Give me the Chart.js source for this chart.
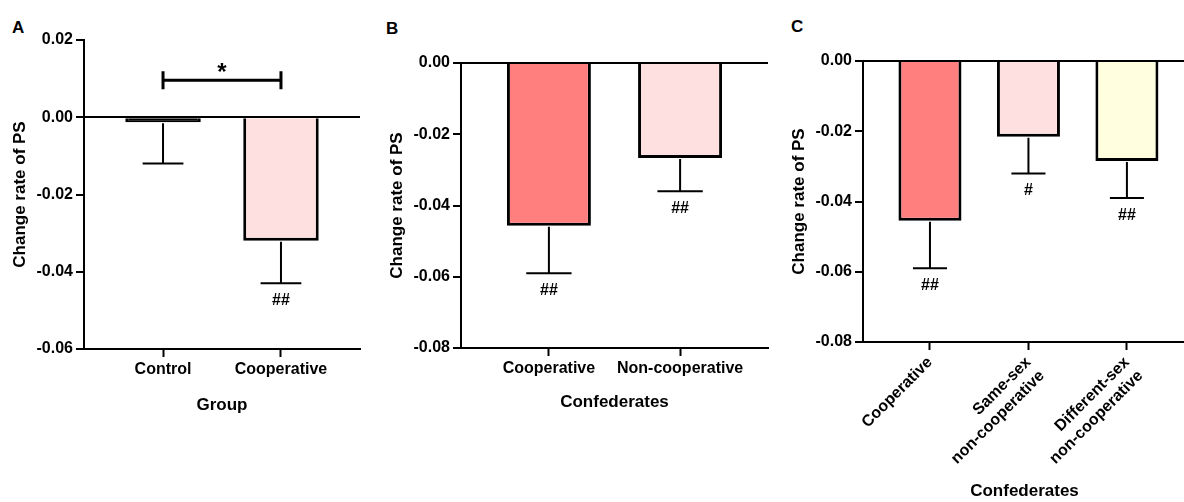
<!DOCTYPE html>
<html>
<head>
<meta charset="utf-8">
<script src="https://cdn.jsdelivr.net/npm/chart.js@4/dist/chart.umd.min.js"></script>
<style>
    body { margin: 0; background: #fff; overflow: hidden; width: 1184px; height: 502px; position: relative; }
    canvas { position: absolute; top: 0; }
    .letter { position: absolute; font: bold 17px "Liberation Sans", Arial, sans-serif; color: #000; }
</style>
</head>
<body>
<div class="letter" style="left:12px; top:18px;">A</div>
<div class="letter" style="left:386px; top:19px;">B</div>
<div class="letter" style="left:791px; top:17px;">C</div>
<canvas id="chartA" width="372" height="430" style="left:0px;"></canvas>
<canvas id="chartB" width="403" height="430" style="left:377px;"></canvas>
<canvas id="chartC" width="410" height="502" style="left:779px;"></canvas>
<script>
// Panel A - Group
const groupLabels = ["Control", "Cooperative"];
const groupMeans = [-0.0013, -0.032];
const groupErrLow = [-0.012, -0.043];
const groupMarks = ["", "##"];
const groupColors = ["#000000", "#ffe0e0"];
const groupBracket = { from: 0, to: 1, value: 0.0096, text: "*" };

// Panel B - Confederates
const confLabels = ["Cooperative", "Non-cooperative"];
const confMeans = [-0.0457, -0.0267];
const confErrLow = [-0.059, -0.036];
const confMarks = ["##", "##"];
const confColors = ["#ff7f7f", "#ffe0e0"];

// Panel C - Confederates by sex
const sexLabels = [["Cooperative"], ["Same-sex", "non-cooperative"], ["Different-sex", "non-cooperative"]];
const sexMeans = [-0.0455, -0.0216, -0.0285];
const sexErrLow = [-0.059, -0.032, -0.039];
const sexMarks = ["##", "#", "##"];
const sexColors = ["#ff7f7f", "#ffe0e0", "#ffffe0"];

Chart.defaults.font.family = '"Liberation Sans", Arial, sans-serif';
Chart.defaults.font.weight = 'bold';
Chart.defaults.color = '#000';

// error bars (downward only), # marks and the significance bracket
const errorBarPlugin = {
    id: 'errorBars',
    afterDatasetsDraw(chart, args, opts) {
        const ctx = chart.ctx;
        const yScale = chart.scales.y;
        const meta = chart.getDatasetMeta(0);
        ctx.save();
        ctx.strokeStyle = '#000';
        ctx.fillStyle = '#000';
        ctx.lineWidth = 2;
        ctx.textAlign = 'center';
        ctx.textBaseline = 'alphabetic';
        ctx.font = 'bold 16px "Liberation Sans", Arial, sans-serif';
        meta.data.forEach((bar, i) => {
            const yLow = yScale.getPixelForValue(opts.low[i]);
            const half = bar.width * 0.27;
            ctx.beginPath();
            ctx.moveTo(bar.x, bar.y + 1);
            ctx.lineTo(bar.x, yLow);
            ctx.moveTo(bar.x - half, yLow);
            ctx.lineTo(bar.x + half, yLow);
            ctx.stroke();
            if (opts.marks[i]) {
                ctx.fillText(opts.marks[i], bar.x, yLow + 22);
            }
        });
        if (opts.bracket) {
            const b = opts.bracket;
            const x1 = meta.data[b.from].x;
            const x2 = meta.data[b.to].x;
            const yb = yScale.getPixelForValue(b.value);
            ctx.lineWidth = 3;
            ctx.beginPath();
            ctx.moveTo(x1, yb); ctx.lineTo(x2, yb);
            ctx.moveTo(x1, yb - 9); ctx.lineTo(x1, yb + 9);
            ctx.moveTo(x2, yb - 9); ctx.lineTo(x2, yb + 9);
            ctx.stroke();
            ctx.font = 'bold 24px "Liberation Sans", Arial, sans-serif';
            ctx.fillText(b.text, (x1 + x2) / 2, yb);
        }
        ctx.restore();
    }
};

function makePanel(id, p) {
    const ctx = document.getElementById(id).getContext("2d");
    return new Chart(ctx, {
        type: "bar",
        data: {
            datasets: [
                {
                    data: p.means.map((v, i) => ({ x: i + 1, y: v })),
                    backgroundColor: p.colors,
                    borderColor: "#000",
                    borderWidth: 3,
                    borderSkipped: "start",
                    barPercentage: 0.64,
                    categoryPercentage: 1
                }
            ]
        },
        plugins: [errorBarPlugin],
        options: {
            responsive: false,
            animation: false,
            layout: {
                padding: { top: p.top, right: p.right, left: 0, bottom: 0 }
            },
            scales: {
                x: {
                    type: "linear",
                    offset: false,
                    min: p.xMin,
                    max: p.xMax,
                    afterBuildTicks: s => { s.ticks = p.labels.map((_, i) => ({ value: i + 1 })); },
                    afterFit: s => { s.height = p.xHeight; },
                    ticks: {
                        autoSkip: false,
                        padding: 3,
                        maxRotation: p.rotation,
                        minRotation: p.rotation,
                        font: { size: 16 },
                        callback: v => p.labels[v - 1]
                    },
                    grid: {
                        offset: false,
                        drawOnChartArea: false,
                        tickColor: "#000",
                        tickLength: 8,
                        tickWidth: 2
                    },
                    border: { color: "#000", width: 2 },
                    title: {
                        display: true,
                        text: p.xTitle,
                        font: { size: 17 },
                        padding: { top: 4, bottom: p.xTitlePad }
                    }
                },
                y: {
                    min: p.yMin,
                    max: p.yMax,
                    afterFit: s => { s.width = 84; },
                    ticks: {
                        stepSize: 0.02,
                        padding: 3,
                        font: { size: 16 },
                        callback: v => v.toFixed(2)
                    },
                    grid: {
                        color: c => (c.tick && Math.abs(c.tick.value) < 1e-9 ? "#000" : "rgba(0,0,0,0)"),
                        lineWidth: 2,
                        tickColor: "#000",
                        tickLength: 8,
                        tickWidth: 2
                    },
                    border: { color: "#000", width: 2 },
                    title: {
                        display: true,
                        text: "Change rate of PS",
                        font: { size: 17 },
                        padding: { top: 10, bottom: 4 }
                    }
                }
            },
            plugins: {
                legend: { display: false },
                tooltip: { enabled: false },
                errorBars: { low: p.errLow, marks: p.marks, bracket: p.bracket }
            }
        }
    });
}

makePanel("chartA", {
    labels: groupLabels, means: groupMeans, errLow: groupErrLow, marks: groupMarks,
    colors: groupColors, bracket: groupBracket, xTitle: "Group",
    yMin: -0.06, yMax: 0.02, xMin: 0.33, xMax: 2.67,
    top: 40, right: 12, xHeight: 81, xTitlePad: 14, rotation: 0
});

makePanel("chartB", {
    labels: confLabels, means: confMeans, errLow: confErrLow, marks: confMarks,
    colors: confColors, bracket: null, xTitle: "Confederates",
    yMin: -0.08, yMax: 0, xMin: 0.33, xMax: 2.67,
    top: 63, right: 12, xHeight: 82, xTitlePad: 17, rotation: 0
});

makePanel("chartC", {
    labels: sexLabels, means: sexMeans, errLow: sexErrLow, marks: sexMarks,
    colors: sexColors, bracket: null, xTitle: "Confederates",
    yMin: -0.08, yMax: 0, xMin: 0.32, xMax: 3.6,
    top: 61, right: 3, xHeight: 160, xTitlePad: 0, rotation: 45
});
</script>
</body>
</html>
